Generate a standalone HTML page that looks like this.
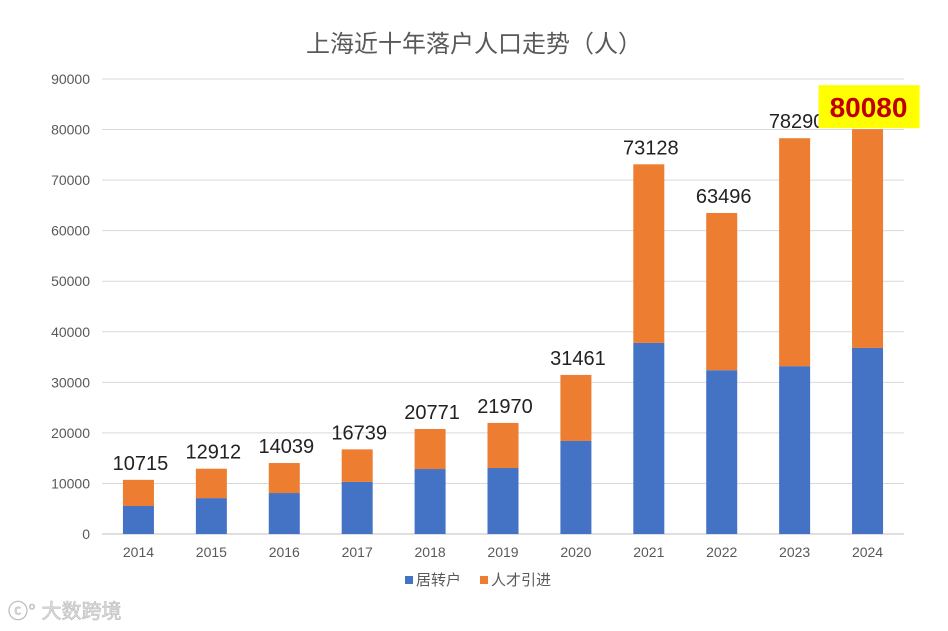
<!DOCTYPE html>
<html><head><meta charset="utf-8"><style>
html,body{margin:0;padding:0;background:#fff;}
svg{display:block;font-family:"Liberation Sans","Noto Sans CJK SC",sans-serif;}
</style></head><body>
<svg id="chart" width="948" height="631">
<text x="474" y="52" text-anchor="middle" font-size="24" fill="#595959">上海近十年落户人口走势（人）</text>
<g id="grid"></g><g id="bars"></g><g id="labels"></g>
<g>
<rect x="405" y="576" width="8" height="8" fill="#4472c4"/>
<text x="416" y="585" font-size="15" fill="#595959">居转户</text>
<rect x="480" y="576" width="8" height="8" fill="#ed7d31"/>
<text x="491" y="585" font-size="15" fill="#595959">人才引进</text>
</g>
<text x="8" y="618" font-size="20" fill="#ddd" stroke="#bbb" stroke-width="0.6">ⓒ° 大数跨境</text>
</svg>
<script>
const years=["2014","2015","2016","2017","2018","2019","2020","2021","2022","2023","2024"];
const totals=[10715,12912,14039,16739,20771,21970,31461,73128,63496,78290,80080];
const hukou=[5540,7100,8100,10300,12850,13050,18400,37800,32400,33200,36800];
const yTicks=[0,10000,20000,30000,40000,50000,60000,70000,80000,90000];
const NS="http://www.w3.org/2000/svg";
const x0=102,x1=904,yBase=534,yTop=79,yMax=90000;
const yS=v=>yBase-(yBase-yTop)*v/yMax;
const step=(x1-x0)/years.length;
const xC=i=>x0+step*(i+0.5);
const bw=31;
function mk(tag,attrs,parent){const e=document.createElementNS(NS,tag);for(const k in attrs)e.setAttribute(k,attrs[k]);parent.appendChild(e);return e;}
const grid=document.getElementById('grid'),bars=document.getElementById('bars'),labels=document.getElementById('labels');
yTicks.forEach(t=>{
  const l=mk('line',{x1:x0,x2:x1,y1:yS(t),y2:yS(t),stroke:t===0?'#bfbfbf':'#d9d9d9','stroke-width':1},grid);
  
  
  const tx=mk('text',{x:90,y:yS(t)+5,'text-anchor':'end','font-size':14,fill:'#595959'},grid);
  tx.textContent=t;
  
  
});
years.forEach((y,i)=>{
  const cx=xC(i);
  const b=mk('rect',{x:cx-bw/2,y:yS(hukou[i]),width:bw,height:yBase-yS(hukou[i]),fill:'#4472c4'},bars);
  
  
  const o=mk('rect',{x:cx-bw/2,y:yS(totals[i]),width:bw,height:yS(hukou[i])-yS(totals[i]),fill:'#ed7d31'},bars);
  
  
  const xt=mk('text',{x:cx,y:557,'text-anchor':'middle','font-size':14,fill:'#595959'},labels);
  xt.textContent=y;
  
  
  if(i===years.length-1){
    const hb=mk('rect',{x:cx-49,y:yS(totals[i])-44,width:101,height:43,fill:'#ffff00'},labels);
    
    
    const v=mk('text',{x:cx+1,y:yS(totals[i])-12,'text-anchor':'middle','font-size':28,'font-weight':'bold',fill:'#c00000'},labels);
    v.textContent=totals[i];
    
    
  } else {
    const v=mk('text',{x:cx+2,y:yS(totals[i])-10,'text-anchor':'middle','font-size':20,fill:'#222'},labels);
    v.textContent=totals[i];
    
    
  }
});
</script>
</body></html>
